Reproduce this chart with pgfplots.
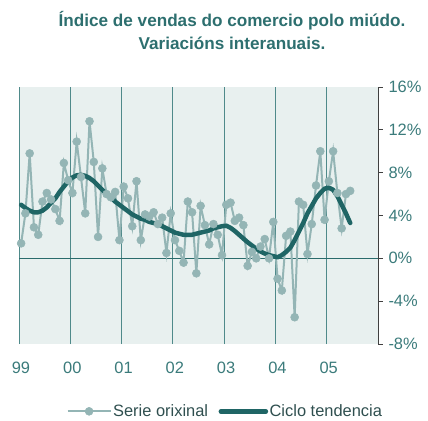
\documentclass[border=0pt]{standalone}
\usepackage{pgfplots}
\usepackage{pgfplotstable}
\pgfplotsset{compat=1.18}
\usepackage{fontspec}
\setmainfont{Liberation Sans}
\definecolor{bgc}{HTML}{E8F0EF}
\definecolor{gridc}{HTML}{4F8A8A}
\definecolor{origc}{HTML}{94B5B5}
\definecolor{trendc}{HTML}{1F6565}
\definecolor{zeroc}{HTML}{2A6B6B}
\definecolor{titlec}{HTML}{2D6F6F}
\definecolor{labc}{HTML}{3B7B7B}
\definecolor{legc}{HTML}{2F4F4F}
\pgfplotsset{
  origleg/.style={legend image code/.code={\draw[mark repeat=2,mark phase=2,##1] plot coordinates {(0bp,0bp) (21.5bp,0bp) (43bp,0bp)};}},
  trendleg/.style={legend image code/.code={\draw[##1] (0bp,0bp) -- (45bp,0bp);}},
}
\pgfplotstableread{
m orig trend
0.5 1.4 5.0
1.5 4.2 4.7
2.5 9.8 4.45
3.5 2.9 4.3
4.5 2.2 4.3
5.5 5.3 4.45
6.5 6.1 4.75
7.5 5.5 5.2
8.5 4.6 5.6
9.5 3.5 6.2
10.5 8.9 6.7
11.5 7.3 7.2
12.5 6.1 7.55
13.5 10.9 7.75
14.5 7.6 7.8
15.5 4.2 7.7
16.5 12.8 7.5
17.5 9.0 7.2
18.5 2.0 6.8
19.5 8.4 6.4
20.5 6.0 6.0
21.5 5.7 5.7
22.5 6.2 5.3
23.5 1.7 5.0
24.5 6.7 4.7
25.5 5.6 4.4
26.5 3.0 4.1
27.5 7.2 3.9
28.5 1.7 3.7
29.5 4.1 3.6
30.5 3.9 3.4
31.5 4.3 3.3
32.5 3.2 3.2
33.5 3.8 3.0
34.5 0.5 2.8
35.5 4.2 2.6
36.5 1.7 2.4
37.5 0.7 2.3
38.5 -0.4 2.2
39.5 5.3 2.2
40.5 4.3 2.2
41.5 -1.4 2.3
42.5 4.9 2.4
43.5 3.1 2.5
44.5 1.3 2.6
45.5 3.2 2.8
46.5 2.2 2.9
47.5 0.3 3.0
48.5 5.0 3.05
49.5 5.2 2.85
50.5 3.5 2.55
51.5 3.8 2.2
52.5 3.1 1.85
53.5 -0.7 1.5
54.5 0.6 1.2
55.5 0.0 0.9
56.5 1.1 0.65
57.5 1.8 0.45
58.5 0.0 0.3
59.5 3.4 0.2
60.5 -1.9 0.1
61.5 -3.0 0.3
62.5 2.1 0.6
63.5 2.5 1.0
64.5 -5.5 1.7
65.5 5.3 2.5
66.5 5.0 3.3
67.5 0.4 4.2
68.5 3.2 4.9
69.5 6.8 5.6
70.5 10.0 6.1
71.5 3.6 6.5
72.5 7.2 6.6
73.5 10.0 6.4
74.5 6.1 5.8
75.5 2.8 5.0
76.5 6.0 4.2
77.5 6.3 3.3
}\data
\begin{document}
\begin{tikzpicture}
\path[use as bounding box] (-19bp,-77bp) rectangle (409bp,344bp);
\begin{axis}[
  at={(0,0)}, anchor=south west,
  scale only axis, width=359bp, height=257bp,
  xmin=0, xmax=84, ymin=-8, ymax=16,
  clip=false,
  axis background/.style={fill=bgc},
  axis line style={draw=none},
  xtick={0,12,...,72},
  xticklabels={99,00,01,02,03,04,05},
  xmajorgrids,
  major grid style={color=gridc, line width=0.9bp},
  xtick style={draw=none},
  xticklabel style={anchor=base, yshift=-24bp, xshift=2bp, font=\fontsize{16.5}{18}\selectfont, text=labc},
  ytick={-8,-4,...,16},
  yticklabels={-8\%,-4\%,0\%,4\%,8\%,12\%,16\%},
  ytick pos=right, yticklabel pos=right,
  tick align=outside,
  major tick length=5bp,
  ytick style={color=black!75, line width=0.8bp},
  yticklabel style={xshift=2bp, font=\fontsize{16.5}{18}\selectfont, text=labc},
  legend style={at={(0.574,-0.262)}, anchor=center, draw=none, fill=none,
    legend columns=2, font=\fontsize{16.5}{18}\selectfont, text=legc,
    nodes={inner sep=1.5bp},
    /tikz/every even column/.append style={column sep=9bp}},
  legend cell align=left,
]
\addplot[zeroc, line width=1bp, forget plot] coordinates {(0,0) (84,0)};
\draw[black!75, line width=0.9bp] (rel axis cs:1,0) -- (rel axis cs:1,1);
\addplot[origc, line width=2bp, mark=*, mark size=4bp,
  mark options={solid, fill=origc, draw=origc, line width=0.5bp}, origleg]
  table[x=m, y=orig] {\data};
\addlegendentry{Serie orixinal}
\addplot[trendc, line width=4.5bp, line join=round, line cap=round, trendleg]
  table[x=m, y=trend] {\data};
\addlegendentry{Ciclo tendencia}
\end{axis}
\node[anchor=base, text=titlec, font=\bfseries\fontsize{17.2}{20}\selectfont] at (213bp,317bp) {Índice de vendas do comercio polo miúdo.};
\node[anchor=base, text=titlec, font=\bfseries\fontsize{17.2}{20}\selectfont] at (213bp,294bp) {Variacións interanuais.};
\end{tikzpicture}
\end{document}
